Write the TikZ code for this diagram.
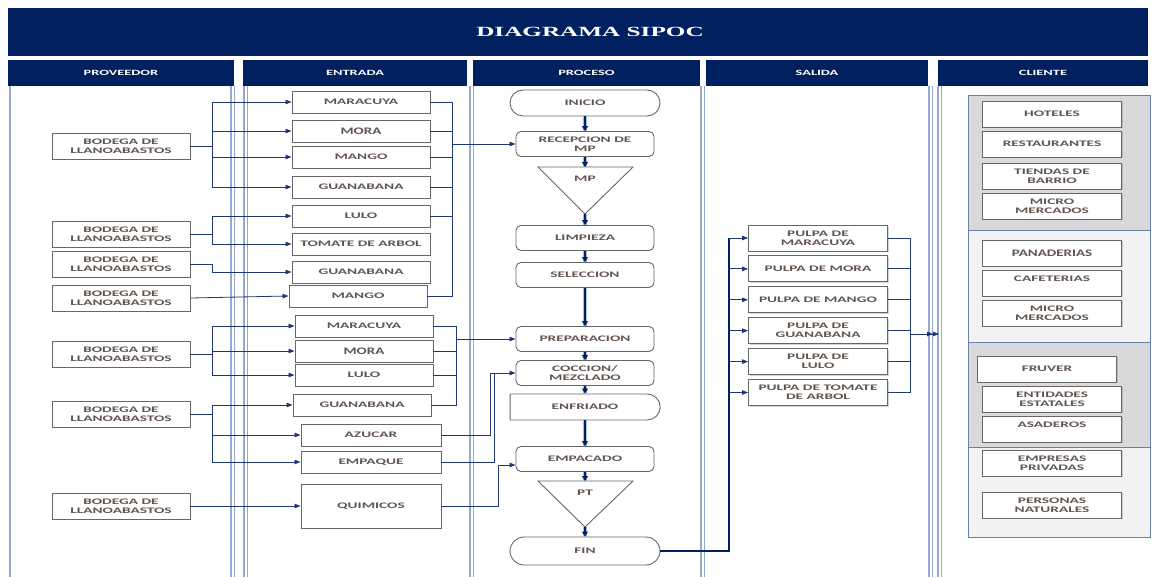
\documentclass[tikz,border=0pt]{standalone}
\usepackage{fontspec}
\usepackage{tikz}
\usetikzlibrary{shapes.misc, arrows.meta, positioning, shadows}

\newfontfamily\boxfont[FakeStretch=1.8]{Carlito}
\newfontfamily\bigfont[FakeStretch=1.5]{Carlito}
\newfontfamily\titlefont[FakeStretch=1.8]{Liberation Serif}

\definecolor{navy}{RGB}{0,32,96}
\definecolor{linkcol}{RGB}{30,55,118}
\definecolor{frameblue}{HTML}{95A9CE}
\definecolor{haloblue}{HTML}{A9B9D9}
\definecolor{txtcol}{RGB}{96,84,78}
\definecolor{panelA}{RGB}{217,217,217}
\definecolor{panelB}{RGB}{242,242,242}
\definecolor{panelline}{RGB}{105,128,175}

\tikzset{
  basebox/.style={draw=black!60, fill=white, line width=0.9pt, inner sep=1pt,
    align=center, text=txtcol,
    font=\boxfont\bfseries\fontsize{8.5}{9}\selectfont},
  inbox/.style={basebox, minimum width=138pt, minimum height=22pt,
    drop shadow={shadow xshift=1.2pt, shadow yshift=-1.2pt, opacity=0.35}},
  provbox/.style={inbox, minimum height=26pt},
  outbox/.style={inbox, minimum width=139pt, minimum height=26pt},
  procbox/.style={basebox, rounded corners=5pt, minimum width=138pt, minimum height=25pt},
  termbox/.style={basebox, rounded rectangle, minimum width=152pt, minimum height=26pt},
  delaybox/.style={basebox, rounded rectangle, rounded rectangle left arc=none,
    minimum width=152pt, minimum height=26pt},
  tri/.style={draw=black!60, line width=0.9pt, fill=white},
  trilabel/.style={text=txtcol, inner sep=0pt,
    font=\boxfont\bfseries\fontsize{8.5}{9}\selectfont},
  bigtxt/.style={font=\bigfont\bfseries\fontsize{10}{11}\selectfont},
  headbar/.style={fill=navy, text=white, minimum height=26pt, inner sep=0pt,
    font=\boxfont\bfseries\fontsize{8}{8}\selectfont},
  colborder/.style={draw=frameblue, line width=1.5pt},
  wire/.style={draw=linkcol, line width=0.8pt},
  link/.style={wire, -{Triangle[length=6pt,width=4.5pt]}},
  linktwo/.style={wire, -{Triangle[length=6pt,width=4.5pt] Triangle[length=6pt,width=4.5pt]}},
  flow/.style={draw=navy, line width=1.3pt, -{Triangle[length=5pt,width=6pt]}},
  halo/.style={draw=haloblue, line width=3.8pt},
  trunk/.style={draw=navy, line width=1.4pt}
}

\begin{document}
\begin{tikzpicture}[x=1pt, y=-1pt]
\useasboundingbox (0,0) rectangle (1156,577);
\fill[white] (0,0) rectangle (1156,577);

\node[fill=navy, minimum width=1140pt, minimum height=48pt] (titlebar) at (578,32) {};
\node[text=white, font=\titlefont\bfseries\fontsize{14}{14}\selectfont] (title) at (590,32) {DIAGRAMA SIPOC};

\foreach \xa/\xb/\lab [count=\i] in {8/234/PROVEEDOR, 243/467/ENTRADA, 473/700/PROCESO, 706/928/SALIDA, 938/1148/CLIENTE} {
  \node[headbar, minimum width={(\xb-\xa)*1pt}] (head\i) at ({(\xa+\xb)/2},73) {\lab};
}
\foreach \x in {10,231,234.5,244,247.5,470,473.5,701,704.5,929,932.5,938,941.5}
  \draw[colborder] (\x,86) -- (\x,577);

% grupos de clientes
\fill[panelA] (968,95) rectangle (1150,230);
\fill[panelB] (968,230) rectangle (1150,342);
\fill[panelA] (968,342) rectangle (1150,447);
\fill[panelB] (968,447) rectangle (1150,537);
\draw[panelline, line width=0.8pt] (968,95) rectangle (1150,537);
\foreach \y in {230,342,447} \draw[panelline, line width=0.8pt] (968,\y) -- (1150,\y);

% proveedor
\node[provbox] (bod1) at (121,146) {BODEGA DE\\LLANOABASTOS};
\node[provbox] (bod2) at (121,234) {BODEGA DE\\LLANOABASTOS};
\node[provbox] (bod3) at (121,264) {BODEGA DE\\LLANOABASTOS};
\node[provbox] (bod4) at (121,298) {BODEGA DE\\LLANOABASTOS};
\node[provbox] (bod5) at (121,354) {BODEGA DE\\LLANOABASTOS};
\node[provbox] (bod6) at (121,414) {BODEGA DE\\LLANOABASTOS};
\node[provbox] (bod7) at (121,506) {BODEGA DE\\LLANOABASTOS};

% entrada
\node[inbox] (maraA) at (361,102) {MARACUYA};
\node[inbox, bigtxt] (moraA) at (361,131) {MORA};
\node[inbox] (mangoA) at (361,157) {MANGO};
\node[inbox] (guanA) at (361,187) {GUANABANA};
\node[inbox] (luloA) at (361,216) {LULO};
\node[inbox] (tomate) at (361,244) {TOMATE DE ARBOL};
\node[inbox] (guanB) at (361,272) {GUANABANA};
\node[inbox] (mangoB) at (358,296) {MANGO};
\node[inbox] (maraB) at (364,326) {MARACUYA};
\node[inbox, bigtxt] (moraB) at (364,351) {MORA};
\node[inbox] (luloB) at (364,375) {LULO};
\node[inbox] (guanC) at (362,405) {GUANABANA};
\node[inbox, minimum width=140pt] (azucar) at (371,435) {AZUCAR};
\node[inbox, minimum width=140pt] (empaque) at (371,462) {EMPAQUE};
\node[inbox, minimum width=140pt, minimum height=44pt] (quimicos) at (371,506) {QUIMICOS};

% proceso
\node[termbox] (inicio) at (585,103) {INICIO};
\node[procbox] (recep) at (585,144) {RECEPCION DE\\MP};
\draw[tri] (538,167) -- (633,167) -- (585,214) -- cycle;
\coordinate (mpin) at (585,167);
\coordinate (mpout) at (585,214);
\node[trilabel] (mplab) at (585,179) {MP};
\node[procbox] (limp) at (585,238) {LIMPIEZA};
\node[procbox] (selec) at (585,275) {SELECCION};
\node[procbox] (prep) at (585,339) {PREPARACION};
\node[procbox] (cocc) at (585,373) {COCCION/\\MEZCLADO};
\node[delaybox] (enfr) at (585,407) {ENFRIADO};
\node[procbox] (empac) at (585,459) {EMPACADO};
\draw[tri] (538,481) -- (633,481) -- (585,527) -- cycle;
\coordinate (ptin) at (585,481);
\coordinate (ptout) at (585,527);
\node[trilabel] (ptlab) at (585,493) {PT};
\node[termbox, minimum height=28pt] (fin) at (585,551) {FIN};

% salida
\node[outbox] (out1) at (818,238) {PULPA DE\\MARACUYA};
\node[outbox, below=4pt of out1] (out2) {PULPA DE MORA};
\node[outbox, below=4pt of out2] (out3) {PULPA DE MANGO};
\node[outbox, below=4pt of out3] (out4) {PULPA DE\\GUANABANA};
\node[outbox, below=4pt of out4] (out5) {PULPA DE\\LULO};
\node[outbox, below=4pt of out5] (out6) {PULPA DE TOMATE\\DE ARBOL};

% cliente
\node[outbox] (hot) at (1052,114) {HOTELES};
\node[outbox] (rest) at (1052,144) {RESTAURANTES};
\node[outbox] (tiend) at (1052,176) {TIENDAS DE\\BARRIO};
\node[outbox] (microA) at (1052,206) {MICRO\\MERCADOS};
\node[outbox, bigtxt] (pan) at (1052,253) {PANADERIAS};
\node[outbox] (caf) at (1052,283) {CAFETERIAS\\~};
\node[outbox] (microB) at (1052,313) {MICRO\\MERCADOS};
\node[outbox] (fruv) at (1047,369) {FRUVER};
\node[outbox] (entid) at (1052,399) {ENTIDADES\\ESTATALES};
\node[outbox] (asad) at (1052,429) {ASADEROS\\~};
\node[outbox] (empr) at (1052,463) {EMPRESAS\\PRIVADAS};
\node[outbox] (pers) at (1052,505) {PERSONAS\\NATURALES};

% proveedor -> entrada
\foreach \t in {maraA, moraA, mangoA, guanA}
  \draw[link] (bod1.east) -- ++(22,0) |- (\t.west);
\foreach \t in {luloA, tomate}
  \draw[link] (bod2.east) -- ++(22,0) |- (\t.west);
\draw[link] (bod3.east) -- ++(22,0) |- (guanB.west);
\draw[link] (bod4.east) -- (mangoB.west);
\foreach \t in {maraB, moraB, luloB}
  \draw[link] (bod5.east) -- ++(22,0) |- (\t.west);
\foreach \t in {guanC, azucar, empaque}
  \draw[link] (bod6.east) -- ++(22,0) |- (\t.west);
\draw[link] (bod7.east) -- (quimicos.west);

% entrada -> proceso
\coordinate (jA) at (452,144);
\foreach \s in {maraA, moraA, mangoA, guanA, luloA, mangoB}
  \draw[wire] (\s.east) -| (jA);
\draw[link] (jA) -- (recep.west);
\coordinate (jB) at (456,339);
\foreach \s in {maraB, moraB, luloB, guanC}
  \draw[wire] (\s.east) -| (jB);
\draw[link] (jB) -- (prep.west);
\coordinate (jC) at (490,373);
\coordinate (jD) at (494,373);
\draw[wire] (azucar.east) -| (jC);
\draw[wire] (empaque.east) -| (jD);
\draw[link] (jC) -- (cocc.west);
\coordinate (jE) at (498,465);
\draw[wire] (quimicos.east) -| (jE);
\draw[link] (jE) -- (jE -| empac.west);

% flujo del proceso
\foreach \a/\b in {inicio.south/recep.north, recep.south/mpin, mpout/limp.north,
    limp.south/selec.north, selec.south/prep.north, prep.south/cocc.north,
    cocc.south/enfr.north, enfr.south/empac.north, empac.south/ptin, ptout/fin.north} {
  \draw[halo] (\a) -- (\b);
  \draw[flow] (\a) -- (\b);
}

% proceso -> salida -> cliente
\coordinate (jF) at (729,238);
\draw[trunk] (fin.east) -| (jF);
\foreach \i in {1,...,6}
  \draw[link] (jF |- out\i.west) -- (out\i.west);
\coordinate (jG) at (910,334);
\foreach \i in {1,...,6}
  \draw[wire] (out\i.east) -| (jG);
\coordinate (cin) at (939,334);
\draw[linktwo] (jG) -- (cin);
\end{tikzpicture}
\end{document}
